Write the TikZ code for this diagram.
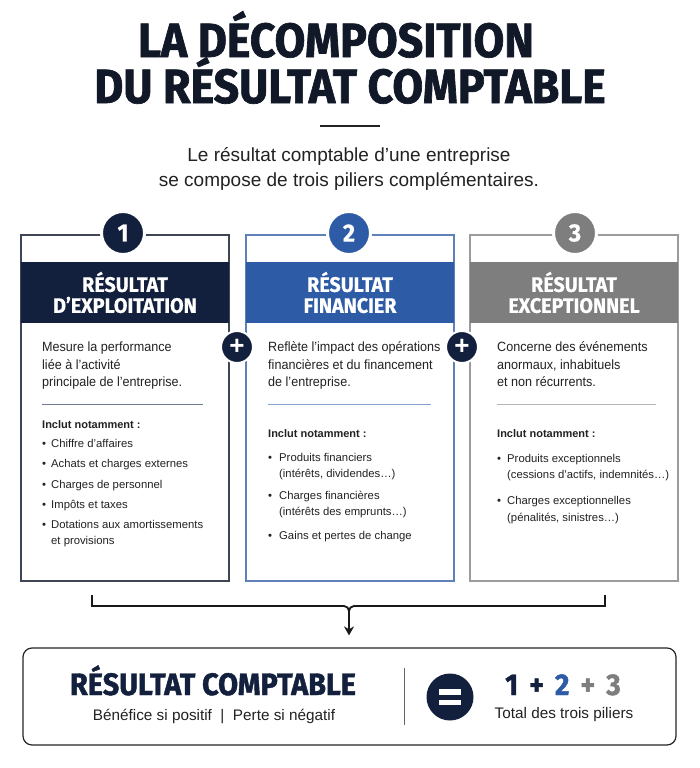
\documentclass[tikz,border=0pt]{standalone}
\usepackage{fontspec}
\setmainfont{Liberation Sans}
\newfontfamily\descfont[FakeStretch=0.94]{Liberation Sans}
\newfontfamily\headfont[FakeStretch=0.94,FakeBold=0.6]{Fira Sans}
\newfontfamily\titlefont[FakeStretch=0.93,FakeBold=1.4]{Fira Sans}
\usetikzlibrary{arrows.meta,calc}
\definecolor{navy}{HTML}{13203D}
\definecolor{ink}{HTML}{111827}
\definecolor{blueB}{HTML}{2E5BA6}
\definecolor{grayC}{HTML}{7E7E7E}
\definecolor{txt}{HTML}{222222}
\definecolor{bord1}{HTML}{3E4656}
\definecolor{bord2}{HTML}{5F80B8}
\definecolor{bord3}{HTML}{9C9C9C}
\definecolor{div1}{HTML}{6E7C92}
\definecolor{div2}{HTML}{86A2CC}
\definecolor{div3}{HTML}{B4B4B4}
\newcommand\fsz[1]{\fontsize{#1}{#1}\selectfont}
\begin{document}
\begin{tikzpicture}[x=1pt,y=-1pt,
  card/.style={draw, line width=1.1pt, fill=white, minimum width=208, minimum height=346, inner sep=0},
  band/.style={minimum width=208, minimum height=61, inner sep=0, text=white, align=center, font=\headfont\bfseries\fontsize{21}{21}\selectfont},
  numc/.style={circle, minimum size=43, inner sep=0, draw=white, line width=3pt, text=white, font=\headfont\bfseries\fsz{25}},
  plusc/.style={circle, fill=navy, minimum size=32, inner sep=0, draw=white, line width=2pt, text=white, font=\bfseries\fsz{26}},
  desc/.style={anchor=base west, inner sep=0, text=txt, font=\descfont\fsz{13.4}},
  inc/.style={anchor=base west, inner sep=0, text=txt, font=\bfseries\fsz{11}},
  itm/.style={anchor=base west, inner sep=0, text=txt, font=\fsz{11.3}},
  ttl/.style={anchor=base, inner sep=0, text=ink, font=\titlefont\bfseries\fsz{48}},
  sub/.style={anchor=base, inner sep=0, text=txt, font=\fsz{19}},
]
\useasboundingbox[fill=white] (0,0) rectangle (700,768);

% title
\node[ttl] (t1) at (336,57) {LA DÉCOMPOSITION};
\node[ttl] (t2) at (350,103) {DU RÉSULTAT COMPTABLE};
\draw[line width=1.5pt, txt] (320,126) -- (380,126);
\node[sub] (s1) at (349,161) {Le résultat comptable d’une entreprise};
\node[sub] (s2) at (349,186) {se compose de trois piliers complémentaires.};

% cards
\node[card, draw=bord1] (c1) at (125,408) {};
\node[card, draw=bord2] (c2) at (350,408) {};
\node[card, draw=bord3] (c3) at (574,408) {};
\node[band, fill=navy] (h1) at (125,292.5) {RÉSULTAT\\D’EXPLOITATION};
\node[band, fill=blueB] (h2) at (350,292.5) {RÉSULTAT\\FINANCIER};
\node[band, fill=grayC] (h3) at (574,292.5) {RÉSULTAT\\EXCEPTIONNEL};
\node[numc, fill=navy] (n1) at (123,233) {1};
\node[numc, fill=blueB] (n2) at (349,233) {2};
\node[numc, fill=grayC] (n3) at (575,233) {3};
\node[plusc] (p1) at (237,347) {+};
\node[plusc] (p2) at (462,347) {+};

% card 1 text
\foreach \y/\t [count=\i] in {351/Mesure la performance, 369/liée à l’activité, 386/principale de l’entreprise.}
  \node[desc] (a\i) at (42,\y) {\t};
\draw[div1, line width=1pt] (42,404) -- (203,404);
\node[inc] (ai) at (42,428) {Inclut notamment :};
\foreach \y/\t [count=\i] in {447/Chiffre d’affaires, 467/Achats et charges externes, 488/Charges de personnel, 508/Impôts et taxes, 528/Dotations aux amortissements}
  {\node[itm] (ab\i) at (42,\y) {•}; \node[itm] (at\i) at (51,\y) {\t};}
\node[itm] (at6) at (51,544) {et provisions};

% card 2 text
\foreach \y/\t [count=\i] in {351/Reflète l’impact des opérations, 369/financières et du financement, 386/de l’entreprise.}
  \node[desc] (b\i) at (268,\y) {\t};
\draw[div2, line width=1pt] (268,404) -- (431,404);
\node[inc] (bi) at (268,437) {Inclut notamment :};
\foreach \y/\t [count=\i] in {461/Produits financiers, 499/Charges financières, 539/Gains et pertes de change}
  {\node[itm] (bb\i) at (268,\y) {•}; \node[itm] (bt\i) at (279,\y) {\t};}
\node[itm] (bt4) at (279,477) {(intérêts, dividendes…)};
\node[itm] (bt5) at (279,515) {(intérêts des emprunts…)};

% card 3 text
\foreach \y/\t [count=\i] in {351/Concerne des événements, 369/{anormaux, inhabituels}, 386/et non récurrents.}
  \node[desc] (e\i) at (497,\y) {\t};
\draw[div3, line width=1pt] (497,404) -- (656,404);
\node[inc] (ei) at (497,437) {Inclut notamment :};
\foreach \y/\t [count=\i] in {462/Produits exceptionnels, 504/Charges exceptionnelles}
  {\node[itm] (eb\i) at (497,\y) {•}; \node[itm] (et\i) at (507,\y) {\t};}
\node[itm] (et3) at (507,478) {(cessions d’actifs, indemnités…)};
\node[itm] (et4) at (507,521) {(pénalités, sinistres…)};

% bracket and arrow
\node[draw=black!85, line width=1.2pt, rounded corners=9pt, minimum width=653, minimum height=97, inner sep=0] (res) at (349.5,696.5) {};
\coordinate (bl) at (92,595);
\coordinate (br) at (605,595);
\coordinate (blc) at (92,606);
\coordinate (brc) at (605,606);
\coordinate (bm) at (349,606);
\coordinate (bd) at (349,616);
\draw[line width=1.8pt, black!90] (bl) -- (blc) -- ($(bm)+(-8,0)$) [rounded corners=5pt] -- (bm) -- (bd);
\draw[line width=1.8pt, black!90] (br) -- (brc) -- ($(bm)+(8,0)$) [rounded corners=5pt] -- (bm) -- (bd);
\draw[line width=1.8pt, black!90, -{Stealth[length=9pt,width=10pt]}, shorten >=12pt] (bd) -- (res.north -| bm);

\node[anchor=base, inner sep=0, text=navy, font=\titlefont\bfseries\fsz{31}] (rc) at (213,695) {RÉSULTAT COMPTABLE};
\node[anchor=base, inner sep=0, text=txt, font=\fsz{15.3}] (bp) at (214,720) {Bénéfice si positif \;|\; Perte si négatif};
\draw[black!60, line width=1pt] (404,668) -- (404,725);
\node[circle, fill=navy, minimum size=47, inner sep=0] (eq) at (450,697) {};
\fill[white] ($(eq)+(-11,-8)$) rectangle ($(eq)+(11,-2.5)$);
\fill[white] ($(eq)+(-11,2.5)$) rectangle ($(eq)+(11,8)$);
\node[anchor=base, inner sep=0, font=\titlefont\bfseries\fsz{30}] (sum) at (563,695) {\textcolor{navy}{1\hspace{11pt}+\hspace{11pt}}\textcolor{blueB}{2}\textcolor{grayC}{\hspace{11pt}+\hspace{11pt}3}};
\node[anchor=base, inner sep=0, text=txt, font=\fsz{15.3}] (tot) at (564,718) {Total des trois piliers};
\end{tikzpicture}
\end{document}
